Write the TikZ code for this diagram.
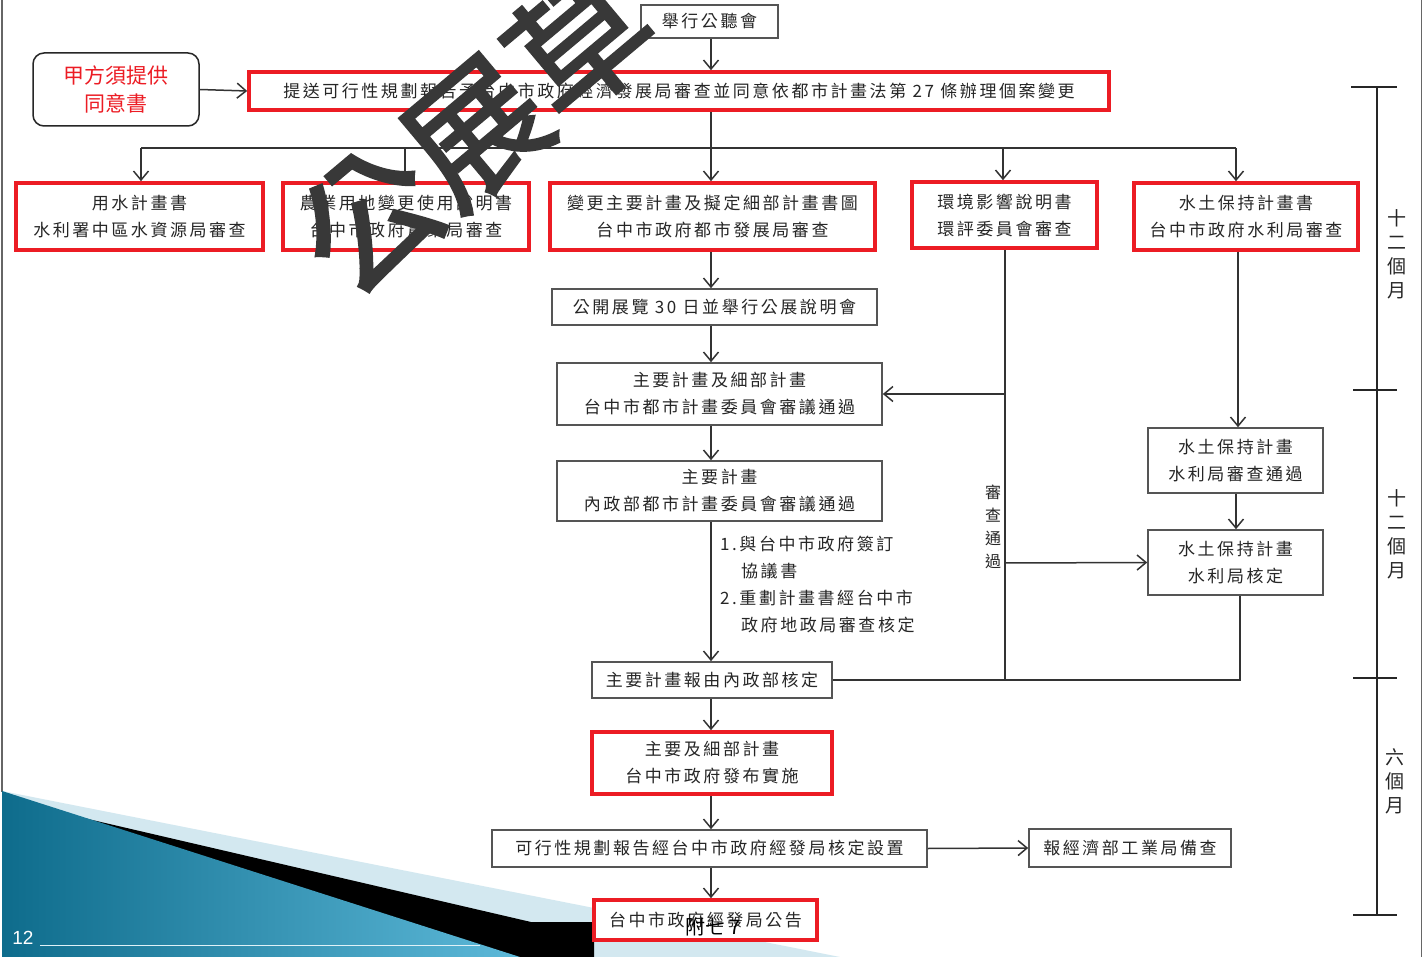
\documentclass[tikz,border=0pt]{standalone}
\usepackage{fontspec}
\setmainfont{Noto Sans CJK TC}[LetterSpace=15]
\newfontfamily\plainfont{Noto Sans CJK TC}
\newfontfamily\wmfont{Noto Sans CJK TC}[FakeBold=2]
\newfontfamily\numfont{Liberation Sans}
\usetikzlibrary{arrows.meta}
\definecolor{myred}{HTML}{EC1C24}
\definecolor{boxgray}{HTML}{555555}
\definecolor{linegray}{HTML}{333333}
\definecolor{lightblue}{HTML}{D3E8F0}
\definecolor{tealA}{HTML}{0E6C8C}
\definecolor{tealB}{HTML}{5DB9D9}
\definecolor{wmgray}{HTML}{383838}
\tikzset{
  graybox/.style={draw=boxgray, line width=1.6pt, fill=white, inner sep=0pt, align=center,
    font=\fontsize{17}{27}\selectfont, text=black!85},
  redbox/.style={draw=myred, line width=3.6pt, fill=white, inner sep=0pt, align=center,
    font=\fontsize{17}{27}\selectfont, text=black!85},
  conn/.style={draw=linegray, line width=1.5pt},
  arr/.style={conn, -{Straight Barb[length=9pt,width=15pt,line width=1.5pt]}},
  tick/.style={draw=black!85, line width=2.4pt},
  scalelbl/.style={align=center, font=\plainfont\fontsize{19}{24}\selectfont, text=black!85, inner sep=0pt}
}
\begin{document}
\begin{tikzpicture}[x=1pt,y=-1pt]
\useasboundingbox (0,0) rectangle (1425,957);
\clip (0,0) rectangle (1425,957);
\fill[white] (0,0) rectangle (1425,957);
% frame
\draw[draw=black!60, line width=1.2pt] (2,0) -- (2,792);
\draw[draw=black!60, line width=1.2pt] (1421.5,0) -- (1421.5,957);
% bottom-left decoration
\fill[lightblue] (2,791) -- (594,908) -- (840,957) -- (2,957) -- cycle;
\fill[black] (2,799) -- (531,922) -- (594,922) -- (594,957) -- (2,957) -- cycle;
\shade[left color=tealA, right color=tealB] (2,791) -- (520,957) -- (2,957) -- cycle;
\draw[white!80!tealB, line width=0.6pt] (40,945) -- (480,945);
\node[font=\numfont\fontsize{19}{19}\selectfont, text=white, anchor=center] (pg) at (23,938) {12};

% time scale
\draw[conn, draw=black!85] (1377,87) -- (1377,915);
\draw[tick] (1351,87) -- (1397,87);
\draw[tick] (1353,390) -- (1397,390);
\draw[tick] (1353,678) -- (1397,678);
\draw[tick] (1353,915) -- (1397,915);
\node[scalelbl] (t1) at (1397,254) {十\\二\\個\\月};
\node[scalelbl] (t2) at (1397,534) {十\\二\\個\\月};
\node[scalelbl] (t3) at (1395,781) {六\\個\\月};

% nodes
\node[graybox, minimum width=137pt, minimum height=33pt] (hold) at (709.5,21.5) {舉行公聽會};
\node[redbox, minimum width=860pt, minimum height=38pt] (r1) at (679,91)
  {提送可行性規劃報告予台中市政府經濟發展局審查並同意依都市計畫法第 27 條辦理個案變更};
\node[draw=black!85, line width=1.5pt, rounded corners=11pt, minimum width=166pt, minimum height=73pt,
  align=center, text=myred, font=\plainfont\fontsize{21}{28}\selectfont, inner sep=0pt] (note) at (116,89.5)
  {甲方須提供\\同意書};

\node[redbox, minimum width=247pt, minimum height=67pt] (b1) at (139.5,216.5) {用水計畫書\\水利署中區水資源局審查};
\node[redbox, minimum width=246pt, minimum height=67pt] (b2) at (406,216.5) {農業用地變更使用說明書\\台中市政府農業局審查};
\node[redbox, minimum width=325pt, minimum height=67pt] (b3) at (712.5,216.5) {變更主要計畫及擬定細部計畫書圖\\台中市政府都市發展局審查};
\node[redbox, minimum width=185pt, minimum height=66pt] (b4) at (1004.5,215) {環境影響說明書\\環評委員會審查};
\node[redbox, minimum width=224pt, minimum height=67pt] (b5) at (1246,216.5) {水土保持計畫書\\台中市政府水利局審查};

\node[graybox, minimum width=325pt, minimum height=36pt] (p1) at (714.5,307) {公開展覽 30 日並舉行公展說明會};
\node[graybox, minimum width=325pt, minimum height=62pt] (p2) at (719.5,394) {主要計畫及細部計畫\\台中市都市計畫委員會審議通過};
\node[graybox, minimum width=325pt, minimum height=60pt] (p3) at (719.5,491) {主要計畫\\內政部都市計畫委員會審議通過};
\node[graybox, minimum width=240pt, minimum height=36pt] (p4) at (712,680) {主要計畫報由內政部核定};
\node[redbox, minimum width=240pt, minimum height=62pt] (p5) at (712,763) {主要及細部計畫\\台中市政府發布實施};
\node[graybox, minimum width=435pt, minimum height=37pt] (p6) at (709.5,848.5) {可行性規劃報告經台中市政府經發局核定設置};
\node[graybox, minimum width=202pt, minimum height=38pt] (p7) at (1130,848) {報經濟部工業局備查};
\node[redbox, minimum width=223pt, minimum height=40pt] (p8) at (705.5,920) {台中市政府經發局公告};

\node[graybox, minimum width=175pt, minimum height=65pt] (w1) at (1235.5,460.5) {水土保持計畫\\水利局審查通過};
\node[graybox, minimum width=175pt, minimum height=65pt] (w2) at (1235.5,562.5) {水土保持計畫\\水利局核定};

% annotation
\node[anchor=north west, align=left, inner sep=0pt, font=\fontsize{17}{27}\selectfont, text=black!85] (ann) at (720,536)
  {1.與台中市政府簽訂\\\hspace*{21pt}協議書\\2.重劃計畫書經台中市\\\hspace*{21pt}政府地政局審查核定};
\node[scalelbl, font=\plainfont\fontsize{16}{23}\selectfont] (pass) at (993,527) {審\\查\\通\\過};

% coordinates
\coordinate (cx) at (711,0);
\coordinate (bus) at (0,148);
\coordinate (v4) at (1005,0);
\coordinate (v5) at (1238,0);
\coordinate (v6) at (1240,0);
\coordinate (j1) at (1005,680);
\coordinate (j2) at (1240,680);

% connectors
\draw[arr] (cx |- hold.south) -- (cx |- r1.north);
\draw[arr] (note.east) -- (r1.west);
\draw[conn] (cx |- r1.south) -- (cx |- bus);
\draw[conn] (141,148) -- (1236,148);
\draw[arr] (141,148) -- (141,0 |- b1.north);
\draw[arr] (405,148) -- (405,0 |- b2.north);
\draw[arr] (711,148) -- (711,0 |- b3.north);
\draw[arr] (1003,148) -- (1003,0 |- b4.north);
\draw[arr] (1236,148) -- (1236,0 |- b5.north);

\draw[arr] (cx |- b3.south) -- (cx |- p1.north);
\draw[arr] (cx |- p1.south) -- (cx |- p2.north);
\draw[arr] (cx |- p2.south) -- (cx |- p3.north);
\draw[arr] (cx |- p3.south) -- (cx |- p4.north);
\draw[arr] (cx |- p4.south) -- (cx |- p5.north);
\draw[arr] (cx |- p5.south) -- (cx |- p6.north);
\draw[arr] (cx |- p6.south) -- (cx |- p8.north);
\draw[arr] (p6.east) -- (p7.west);

\draw[conn] (v4 |- b4.south) -- (j1);
\draw[arr] (v4 |- p2.east) -- (p2.east);
\draw[arr] (1005,563) -- (w2.west);
\draw[conn] (p4.east) -- (j1) -- (j2) -- (v6 |- w2.south);
\draw[arr] (v5 |- b5.south) -- (v5 |- w1.north);
\draw[arr] (1236,0 |- w1.south) -- (1236,0 |- w2.north);

% watermark and overlay label
\node[font=\wmfont\fontsize{138}{138}\selectfont, text=wmgray, rotate=40, inner sep=0pt] (wm) at (474,130) {公展草};
\node[font=\plainfont\fontsize{20}{20}\selectfont, text=black, inner sep=0pt] (fu) at (713,927) {附七 7};
\end{tikzpicture}
\end{document}
